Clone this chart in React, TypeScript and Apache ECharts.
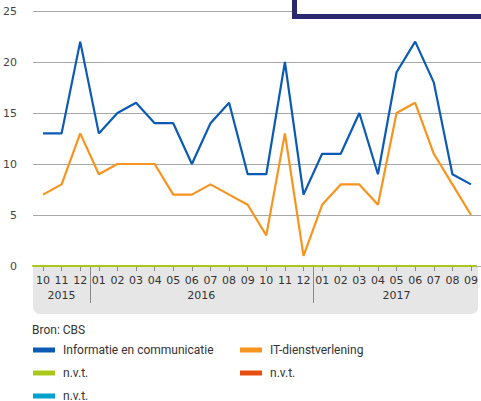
import React, { useEffect, useRef } from "react";
import * as echarts from "echarts";

const months = ["10", "11", "12", "01", "02", "03", "04", "05", "06", "07", "08", "09", "10", "11", "12", "01", "02", "03", "04", "05", "06", "07", "08", "09"];
const years = ["2015", "2016", "2017"];
const yearCounts = [3, 12, 9];
const infoValues = [13, 13, 22, 13, 15, 16, 14, 14, 10, 14, 16, 9, 9, 20, 7, 11, 11, 15, 9, 19, 22, 18, 9, 8];
const itValues = [7, 8, 13, 9, 10, 10, 10, 7, 7, 8, 7, 6, 3, 13, 1, 6, 8, 8, 6, 15, 16, 11, 8, 5];
const nvtValues = [0, 0, 0, 0, 0, 0, 0, 0, 0, 0, 0, 0, 0, 0, 0, 0, 0, 0, 0, 0, 0, 0, 0, 0];
const seriesNames = ["Informatie en communicatie", "IT-dienstverlening", "n.v.t.", "n.v.t.", "n.v.t."];
const seriesColors = ["#0b5ab4", "#f7941d", "#aac81b", "#e84e10", "#00a1cd"];
const sourceText = "Bron: CBS";
const yMin = 0;
const yMax = 25;
const yInterval = 5;

const axisFont = "DejaVu Sans";
const legendFont = "Roboto";

export default function App() {
  const ref = useRef<HTMLDivElement>(null);
  useEffect(() => {
    document.body.style.margin = "0";
    const chart = echarts.init(ref.current!, undefined, { renderer: "svg" });
    const top = 11;
    const bottom = 135;
    const option: any = {
      animation: false,
      grid: [
        { left: 33, right: 0, top, bottom },
        { left: 43, right: 5, top, bottom },
        { left: 33, right: 5, top, bottom },
      ],
      xAxis: [
        { gridIndex: 0, type: "value", show: false, min: 0, max: 1 },
        {
          gridIndex: 1,
          type: "category",
          data: months,
          boundaryGap: false,
          axisLine: { show: false },
          axisTick: { show: true, length: 5, lineStyle: { color: "#8a8a8a", width: 1 } },
          axisLabel: { margin: 9, fontSize: 11, color: "#333", fontFamily: axisFont, interval: 0 },
        },
        {
          gridIndex: 2,
          type: "value",
          min: 0,
          max: 1,
          axisLine: { show: true, lineStyle: { color: seriesColors[2], width: 2 } },
          axisTick: { show: false },
          axisLabel: { show: false },
          splitLine: { show: false },
        },
      ],
      yAxis: [
        {
          gridIndex: 0,
          type: "value",
          min: yMin,
          max: yMax,
          interval: yInterval,
          axisLine: { show: false },
          axisTick: { show: false },
          splitLine: { lineStyle: { color: "#a8a8a8", width: 1 } },
          axisLabel: { margin: 16, fontSize: 11, color: "#444", fontFamily: axisFont },
        },
        { gridIndex: 1, type: "value", min: yMin, max: yMax, show: false, splitLine: { show: false } },
        { gridIndex: 2, type: "value", min: yMin, max: yMax, show: false, splitLine: { show: false } },
      ],
      series: [
        {
          name: seriesNames[1],
          type: "line",
          xAxisIndex: 1,
          yAxisIndex: 1,
          data: itValues,
          symbol: "none",
          lineStyle: { color: seriesColors[1], width: 2.2 },
        },
        {
          name: seriesNames[0],
          type: "line",
          xAxisIndex: 1,
          yAxisIndex: 1,
          data: infoValues,
          symbol: "none",
          lineStyle: { color: seriesColors[0], width: 2.2 },
        },
        {
          name: seriesNames[2],
          type: "line",
          xAxisIndex: 1,
          yAxisIndex: 1,
          data: nvtValues,
          symbol: "none",
          lineStyle: { color: seriesColors[2], width: 2 },
        },
      ],
    };
    chart.setOption(option);

    const zeroY = chart.convertToPixel({ yAxisIndex: 1 }, 0) as number;
    const graphics: any[] = [];
    graphics.push({
      type: "rect",
      z: -100,
      shape: { x: 33, y: zeroY + 1, width: 445, height: 47, r: [0, 0, 7, 7] },
      style: { fill: "#e6e6e6" },
    });
    let start = 0;
    yearCounts.forEach((cnt, gi) => {
      const x0 = chart.convertToPixel({ xAxisIndex: 1 }, start) as number;
      const x1 = chart.convertToPixel({ xAxisIndex: 1 }, start + cnt - 1) as number;
      graphics.push({
        type: "text",
        x: (x0 + x1) / 2,
        y: zeroY + 29,
        style: { text: years[gi], fill: "#333", font: `11px "${axisFont}"`, align: "center", verticalAlign: "middle" },
      });
      if (gi < yearCounts.length - 1) {
        const xn = chart.convertToPixel({ xAxisIndex: 1 }, start + cnt) as number;
        const xs = Math.round((x1 + xn) / 2) + 0.5;
        graphics.push({
          type: "line",
          shape: { x1: xs, y1: zeroY + 1, x2: xs, y2: zeroY + 37 },
          style: { stroke: "#8a8a8a", lineWidth: 1 },
        });
      }
      start += cnt;
    });
    graphics.push({
      type: "rect",
      shape: { x: 294.5, y: -10, width: 200, height: 26.5 },
      style: { fill: "#fff", stroke: "#2b2870", lineWidth: 5 },
    });
    graphics.push({
      type: "text",
      x: 32,
      y: 330,
      style: { text: sourceText, fill: "#333", font: `12px "${legendFont}"`, verticalAlign: "middle" },
    });
    seriesNames.forEach((name, i) => {
      const col = i % 2;
      const row = Math.floor(i / 2);
      const ix = col === 0 ? 33 : 240;
      const iy = 350 + row * 23;
      graphics.push({
        type: "rect",
        shape: { x: ix, y: iy - 2.5, width: 22, height: 5 },
        style: { fill: seriesColors[i] },
      });
      graphics.push({
        type: "text",
        x: ix + 30,
        y: iy,
        style: { text: name, fill: "#333", font: `12px "${legendFont}"`, verticalAlign: "middle" },
      });
    });
    chart.setOption({ graphic: graphics });
    return () => chart.dispose();
  }, []);
  return <div ref={ref} style={{ width: 481, height: 401 }} />;
}
